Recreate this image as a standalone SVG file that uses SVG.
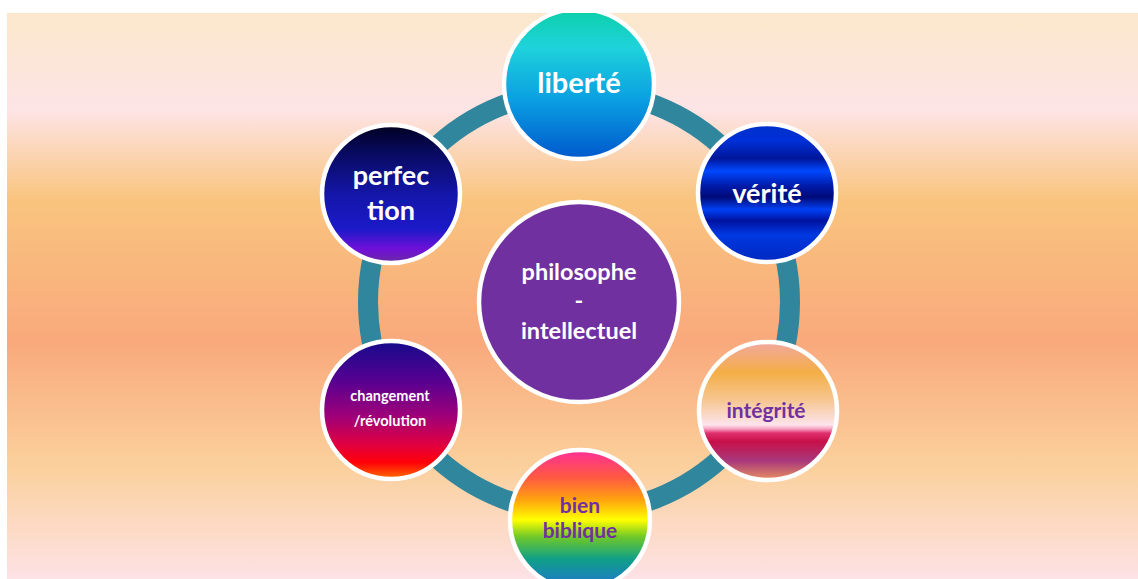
<svg xmlns="http://www.w3.org/2000/svg" width="1138" height="579" viewBox="0 0 1138 579">
<defs>
<linearGradient id="bg" x1="0" y1="13" x2="0" y2="579" gradientUnits="userSpaceOnUse">
<stop offset="0" stop-color="#fbe8cb"/>
<stop offset="0.17" stop-color="#fde4e6"/>
<stop offset="0.33" stop-color="#f9c47e"/>
<stop offset="0.58" stop-color="#f9a97c"/>
<stop offset="0.8" stop-color="#fbd09c"/>
<stop offset="1" stop-color="#fde2e6"/>
</linearGradient>
<linearGradient id="gLib" x1="0" y1="0" x2="0" y2="1">
<stop offset="0" stop-color="#0ccfa8"/>
<stop offset="0.25" stop-color="#1ed3da"/>
<stop offset="0.6" stop-color="#0aa0e2"/>
<stop offset="1" stop-color="#0058cc"/>
</linearGradient>
<linearGradient id="gVer" x1="0" y1="0" x2="0" y2="1">
<stop offset="0" stop-color="#0030c8"/>
<stop offset="0.12" stop-color="#0030d8"/>
<stop offset="0.25" stop-color="#00169a"/>
<stop offset="0.34" stop-color="#0048ff"/>
<stop offset="0.45" stop-color="#001aa8"/>
<stop offset="0.53" stop-color="#000a78"/>
<stop offset="0.62" stop-color="#0040f4"/>
<stop offset="0.7" stop-color="#0012a0"/>
<stop offset="0.8" stop-color="#0038e0"/>
<stop offset="1" stop-color="#0028c0"/>
</linearGradient>
<linearGradient id="gPer" x1="0" y1="0" x2="0" y2="1">
<stop offset="0" stop-color="#000020"/>
<stop offset="0.2" stop-color="#080a60"/>
<stop offset="0.5" stop-color="#1416a8"/>
<stop offset="0.75" stop-color="#1a1ac8"/>
<stop offset="0.9" stop-color="#7010d8"/>
<stop offset="1" stop-color="#6a2aa0"/>
</linearGradient>
<linearGradient id="gInt" x1="0" y1="0" x2="0" y2="1">
<stop offset="0" stop-color="#f2a8a0"/>
<stop offset="0.22" stop-color="#f4ae46"/>
<stop offset="0.42" stop-color="#f6c690"/>
<stop offset="0.6" stop-color="#fde4ec"/>
<stop offset="0.63" stop-color="#f6a0c0"/>
<stop offset="0.66" stop-color="#e0306e"/>
<stop offset="0.72" stop-color="#c81048"/>
<stop offset="0.86" stop-color="#a8387c"/>
<stop offset="1" stop-color="#e89060"/>
</linearGradient>
<linearGradient id="gBib" x1="0" y1="0" x2="0" y2="1">
<stop offset="0" stop-color="#ff2e98"/>
<stop offset="0.2" stop-color="#ff5a40"/>
<stop offset="0.35" stop-color="#ffa010"/>
<stop offset="0.5" stop-color="#ffff00"/>
<stop offset="0.62" stop-color="#70c828"/>
<stop offset="0.78" stop-color="#10a088"/>
<stop offset="1" stop-color="#2070d8"/>
</linearGradient>
<linearGradient id="gCha" x1="0" y1="0" x2="0" y2="1">
<stop offset="0" stop-color="#140a8c"/>
<stop offset="0.3" stop-color="#5a0090"/>
<stop offset="0.55" stop-color="#a00078"/>
<stop offset="0.75" stop-color="#e00040"/>
<stop offset="0.88" stop-color="#ff0008"/>
<stop offset="1" stop-color="#ff7000"/>
</linearGradient>
</defs>
<style>
.node{stroke:#ffffff;stroke-width:4.5}
.wt{font-family:Lato,"Open Sans",sans-serif;font-weight:bold;fill:#ffffff;text-anchor:middle}
.pt{font-family:Lato,"Open Sans",sans-serif;font-weight:bold;fill:#7030a0;text-anchor:middle}
</style>
<rect x="7" y="13" width="1131" height="566" fill="url(#bg)"/>
<g id="connectors">
<circle cx="579" cy="302" r="211" fill="none" stroke="#30869c" stroke-width="20"/>
</g>
<g id="center">
<circle class="node" cx="579" cy="302" r="100" fill="#7030a0"/>
<text class="wt" x="579" y="280" font-size="23.5">philosophe</text>
<text class="wt" x="579" y="309" font-size="23.5">-</text>
<text class="wt" x="579" y="339" font-size="23.5">intellectuel</text>
</g>
<g id="liberte">
<circle class="node" cx="579" cy="84" r="75" fill="url(#gLib)"/>
<text class="wt" x="579" y="93" font-size="29">liberté</text>
</g>
<g id="verite">
<circle class="node" cx="767" cy="193" r="69" fill="url(#gVer)"/>
<text class="wt" x="767" y="203" font-size="27">vérité</text>
</g>
<g id="perfection">
<circle class="node" cx="391" cy="194" r="69" fill="url(#gPer)"/>
<text class="wt" x="391" y="185" font-size="27">perfec</text>
<text class="wt" x="391" y="220" font-size="27">tion</text>
</g>
<g id="integrite">
<circle class="node" cx="768" cy="411" r="69" fill="url(#gInt)"/>
<text class="pt" x="766" y="418" font-size="21">intégrité</text>
</g>
<g id="bien-biblique">
<circle class="node" cx="580" cy="520" r="70" fill="url(#gBib)"/>
<text class="pt" x="580" y="513" font-size="21">bien</text>
<text class="pt" x="580" y="538" font-size="21">biblique</text>
</g>
<g id="changement">
<circle class="node" cx="391" cy="410" r="69" fill="url(#gCha)"/>
<text class="wt" x="390" y="401" font-size="14.5">changement</text>
<text class="wt" x="390" y="426" font-size="14.5">/révolution</text>
</g>
<rect x="0" y="0" width="1138" height="13" fill="#ffffff"/>
<rect x="0" y="0" width="7" height="579" fill="#ffffff"/>
</svg>
